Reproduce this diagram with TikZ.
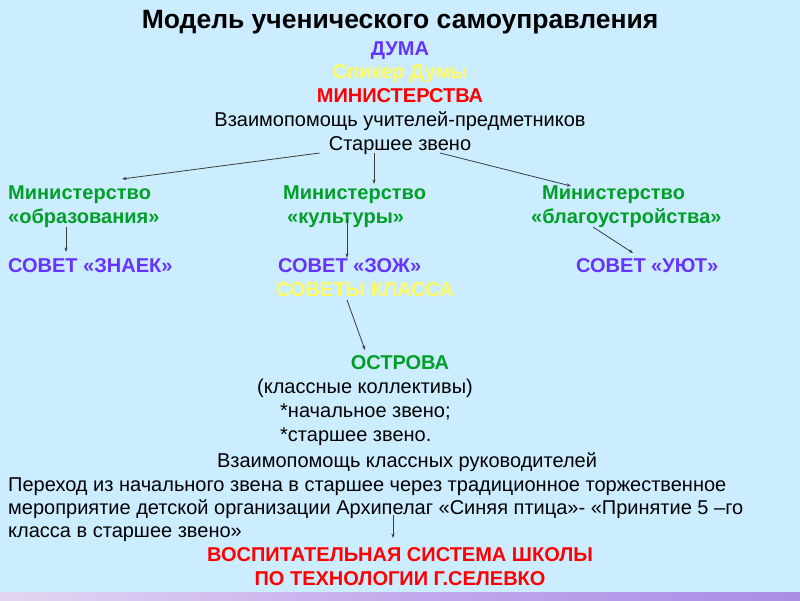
\documentclass[tikz,border=0pt]{standalone}
\usepackage{fontspec}
\setmainfont{Liberation Sans}
\usetikzlibrary{arrows.meta, calc}
\definecolor{skyBack}{RGB}{204,236,255}
\definecolor{dumaBlue}{RGB}{102, 51,255}
\definecolor{spkYellow}{RGB}{255,250, 95}
\definecolor{minGreen}{RGB}{  0,160, 40}
\definecolor{minRed}{RGB}{255,  0,  0}
\definecolor{lineGrey}{RGB}{ 60, 60, 60}
\definecolor{stripLeft}{RGB}{226,214,242}
\definecolor{stripMid}{RGB}{196,170,236}
\definecolor{stripRight}{RGB}{170,140,230}
\tikzset{
    txt/.style={
        inner sep=0pt, anchor=base west, text=black,
        font=\fontsize{20}{24}\selectfont,
    },
    ctxt/.style={
        txt, anchor=base,
    },
    hdr/.style={
        txt, font=\fontsize{20}{24}\selectfont\bfseries,
    },
    chdr/.style={
        hdr, anchor=base,
    },
    title/.style={
        inner sep=0pt, anchor=base,
        font=\fontsize{26.5}{31}\selectfont\bfseries,
    },
    % thin grey connector with a small tip
    arr/.style={
        -{Stealth[length=4.5pt, width=3.2pt]}, line width=0.8pt, draw=lineGrey,
    },
}

\begin{document}
\begin{tikzpicture}[x=1pt, y=-1pt]

% ============================================================
%   Background
% ============================================================
\fill[skyBack] (0,0) rectangle (800,600);
\shade[left color=stripLeft, right color=stripRight, middle color=stripMid]
    (0,592) rectangle (800,600);
\useasboundingbox (0,0) rectangle (800,600);

% ============================================================
%   Top block (centred)
% ============================================================
\node[title]                    (ttl)  at (400, 28) {Модель ученического самоуправления};
\node[chdr, text=dumaBlue]      (duma) at (400, 55) {ДУМА};
\node[chdr, text=spkYellow]     (spk)  at (400, 78.5) {Спикер Думы};
\node[chdr, text=minRed]        (mins) at (400,102) {МИНИСТЕРСТВА};
\node[ctxt]                     (vzu)  at (400,126) {Взаимопомощь учителей-предметников};
\node[ctxt]                     (star) at (400,150) {Старшее звено};

% ============================================================
%   Ministries (three columns)
% ============================================================
\node[hdr, text=minGreen] (mobr1) at (  8,199) {Министерство};
\node[hdr, text=minGreen] (mobr2) at (  8,223) {«образования»};
\node[hdr, text=minGreen] (mkul1) at (283,199) {Министерство};
\node[hdr, text=minGreen] (mkul2) at (287,223) {«культуры»};
\node[hdr, text=minGreen] (mbl1)  at (542,199) {Министерство};
\node[hdr, text=minGreen] (mbl2)  at (531,223) {«благоустройства»};

% --- councils ------------------------------------------------
\node[hdr, text=dumaBlue]  (sznk)  at (  8,272) {СОВЕТ «ЗНАЕК»};
\node[hdr, text=dumaBlue]  (szozh) at (278,272) {СОВЕТ «ЗОЖ»};
\node[hdr, text=dumaBlue]  (suyut) at (576,272) {СОВЕТ «УЮТ»};
\node[hdr, text=spkYellow] (skl)   at (276,296) {СОВЕТЫ КЛАССА};

% ============================================================
%   Islands
% ============================================================
\node[chdr, text=minGreen] (ostr) at (400,369) {ОСТРОВА};
\node[ctxt]                (kk)   at (365,393) {(классные коллективы)};
\node[txt]                 (nz)   at (280,417) {*начальное звено;};
\node[txt]                 (stz)  at (280,441) {*старшее звено.};
\node[ctxt]                (vkr)  at (407,467) {Взаимопомощь классных руководителей};

% --- transition paragraph -----------------------------------
\node[txt] (p1) at (8,491) {Переход из начального звена в старшее через традиционное торжественное};
\node[txt] (p2) at (8,514) {мероприятие детской организации Архипелаг «Синяя птица»- «Принятие 5 –го};
\node[txt] (p3) at (8,537) {класса в старшее звено»};

% ============================================================
%   School system (bottom)
% ============================================================
\node[chdr, text=minRed] (vs1) at (400,561) {ВОСПИТАТЕЛЬНАЯ СИСТЕМА ШКОЛЫ};
\node[chdr, text=minRed] (vs2) at (400,585) {ПО ТЕХНОЛОГИИ Г.СЕЛЕВКО};

% ============================================================
%   Connectors
% ============================================================
\draw[arr] ([shift={(-9,3)}]star.base west) -- ([shift={(114,-20)}]mobr1.base west);
\draw[arr] ([shift={(-26,3)}]star.base)     -- ([shift={(91,-15)}]mkul1.base west);
\draw[arr] ([shift={(40,3)}]star.base)      -- ([shift={(29,-13)}]mbl1.base west);

\draw[arr] ([shift={(58,4)}]mobr2.base west) -- ([shift={(58,-20)}]sznk.base west);
\draw[arr] ([shift={(60,-4)}]mkul2.base west) -- ([shift={(69,-14)}]szozh.base west);
\draw[arr] ([shift={(62,4)}]mbl2.base west)  -- ([shift={(57,-19)}]suyut.base west);

\draw[arr] ([shift={(71,4)}]skl.base west) -- ([shift={(-35,-19)}]ostr.base);
\draw[arr] ([shift={(385,1)}]p2.base west) -- ([shift={(-7,-23)}]vs1.base);

\end{tikzpicture}
\end{document}
